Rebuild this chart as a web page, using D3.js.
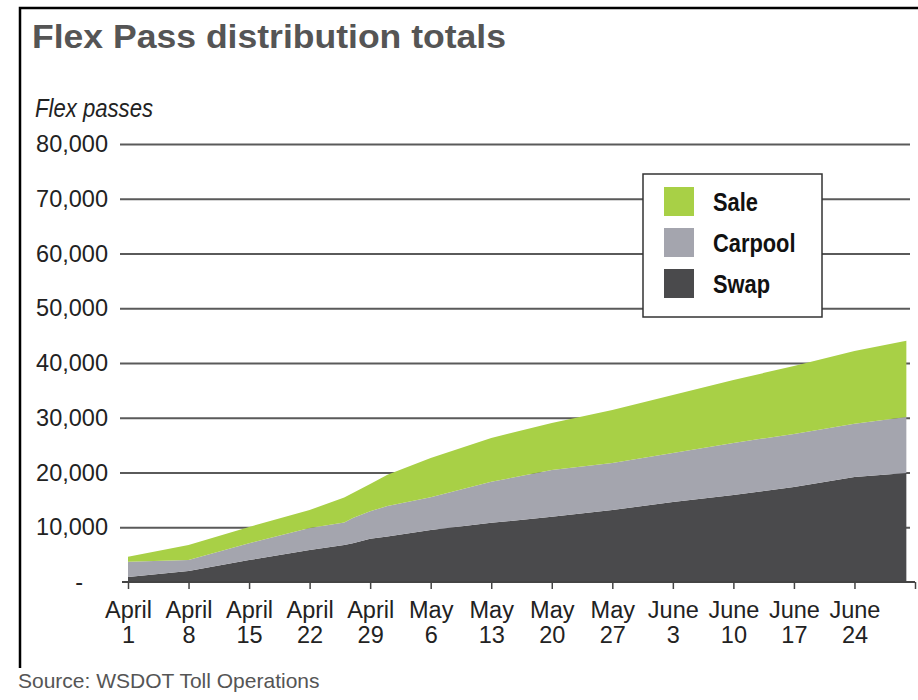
<!DOCTYPE html>
<html>
<head>
<meta charset="utf-8">
<script src="https://cdn.jsdelivr.net/npm/d3@7"></script>
<style>
  body { margin: 0; background: #fff; }
  svg { display: block; }
</style>
</head>
<body>
<script>
// data (cumulative passes per program)
const dates = ['2012-04-01', '2012-04-08', '2012-04-15', '2012-04-22', '2012-04-26',
  '2012-04-27', '2012-04-29', '2012-05-01', '2012-05-06', '2012-05-13', '2012-05-20',
  '2012-05-27', '2012-06-03', '2012-06-10', '2012-06-17', '2012-06-24', '2012-06-30']
const swap    = [900, 2000, 4000, 5850, 6750, 7100, 7900, 8300, 9500, 10800, 11900, 13150, 14600, 15900, 17350, 19200, 19900]
const carpool = [2800, 2000, 3100, 4000, 4100, 4600, 5000, 5600, 6000, 7500, 8550, 8600, 8950, 9500, 9700, 9700, 10250]
const sale    = [900, 2750, 2950, 3300, 4600, 4550, 5000, 5700, 7150, 8000, 8600, 9650, 10600, 11500, 12400, 13300, 13900]

const seriesNames = ['Swap', 'Carpool', 'Sale']
const legendNames = ['Sale', 'Carpool', 'Swap']

const xTickDates = ['2012-04-01', '2012-04-08', '2012-04-15', '2012-04-22', '2012-04-29',
  '2012-05-06', '2012-05-13', '2012-05-20', '2012-05-27', '2012-06-03', '2012-06-10',
  '2012-06-17', '2012-06-24', '2012-07-01']
const xTickMonths = ['April', 'April', 'April', 'April', 'April', 'May', 'May', 'May', 'May', 'June', 'June', 'June', 'June', '']
const xTickDays = ['1', '8', '15', '22', '29', '6', '13', '20', '27', '3', '10', '17', '24', '']
const yTicks = [0, 10000, 20000, 30000, 40000, 50000, 60000, 70000, 80000]

chart()

function chart() {
  const outerWidth = 918
  const outerHeight = 700

  const colors = { Sale: '#a8d046', Carpool: '#a4a5ae', Swap: '#4a4a4c' }

  const parse = d3.timeParse('%Y-%m-%d')
  const table = dates.map((d, i) => ({
    date: parse(d),
    Swap: swap[i],
    Carpool: carpool[i],
    Sale: sale[i]
  }))

  const svg = d3.select('body')
    .append('svg')
    .attr('width', outerWidth)
    .attr('height', outerHeight)

  // frame
  svg.append('path')
    .attr('d', 'M20,668V8H918')
    .style('fill', 'none')
    .style('stroke', '#000')
    .style('stroke-width', '2.5px')

  // title
  svg.append('text')
    .attr('x', 32)
    .attr('y', 48)
    .attr('textLength', 474)
    .attr('lengthAdjust', 'spacingAndGlyphs')
    .style('font-family', 'Liberation Sans, Arial, sans-serif')
    .style('font-weight', 'bold')
    .style('font-size', '33px')
    .style('fill', '#555')
    .text('Flex Pass distribution totals')

  svg.append('text')
    .attr('x', 35)
    .attr('y', 117)
    .attr('textLength', 118)
    .attr('lengthAdjust', 'spacingAndGlyphs')
    .style('font-family', 'Liberation Sans, Arial, sans-serif')
    .style('font-style', 'italic')
    .style('font-size', '25px')
    .style('fill', '#222')
    .text('Flex passes')

  // scales
  const xScale = d3.scaleTime()
    .domain([parse('2012-04-01'), parse('2012-07-01')])
    .range([128, 915])

  const yScale = d3.scaleLinear()
    .domain([0, 80000])
    .range([582, 144])

  // gridlines + y labels
  const yAxis = d3.axisLeft(yScale)
    .tickValues(yTicks)
    .tickSize(-790)
    .tickPadding(12)
    .tickFormat(d => d === 0 ? '-' : d3.format(',')(d))

  const yG = svg.append('g')
    .attr('transform', 'translate(120,0)')
    .call(yAxis)
  yG.select('.domain').remove()
  yG.selectAll('.tick line')
    .style('stroke', d => d === 0 ? 'none' : '#5a5a5a')
    .style('stroke-width', '2px')
  yG.selectAll('.tick text')
    .style('font-family', 'Liberation Sans, Arial, sans-serif')
    .style('font-size', '23.5px')
    .style('fill', '#222')
    .attr('x', d => d === 0 ? -37 : -12)

  // stacked areas
  const stack = d3.stack().keys(seriesNames)
  const layers = stack(table)

  const area = d3.area()
    .x(d => xScale(d.data.date))
    .y0(d => yScale(d[0]))
    .y1(d => yScale(d[1]))

  svg.selectAll('path.layer')
    .data(layers)
    .enter()
    .append('path')
    .attr('class', 'layer')
    .attr('d', area)
    .style('fill', d => colors[d.key])

  // x axis
  const xAxis = d3.axisBottom(xScale)
    .tickValues(xTickDates.map(parse))
    .tickSize(7)
    .tickFormat('')

  const xG = svg.append('g')
    .attr('transform', `translate(0,${yScale(0)})`)
    .call(xAxis)
  xG.select('.domain')
    .attr('d', 'M122,0H915')
    .style('stroke', '#444')
    .style('stroke-width', '2px')
  xG.selectAll('.tick line')
    .style('stroke', '#444')
    .style('stroke-width', '1.5px')

  xG.selectAll('.tick')
    .each(function(d, i) {
      const t = d3.select(this)
      t.append('text')
        .attr('y', 36)
        .text(xTickMonths[i])
      t.append('text')
        .attr('y', 61)
        .text(xTickDays[i])
      t.selectAll('text')
        .attr('text-anchor', 'middle')
        .style('font-family', 'Liberation Sans, Arial, sans-serif')
        .style('font-size', '23.5px')
        .style('fill', '#222')
    })

  // legend
  const legend = svg.append('g')
    .attr('transform', 'translate(643,174)')

  legend.append('rect')
    .attr('width', 179)
    .attr('height', 143)
    .style('fill', '#fff')
    .style('stroke', '#333')
    .style('stroke-width', '1.5px')

  legend.selectAll('g.item')
    .data(legendNames)
    .enter()
    .append('g')
    .attr('class', 'item')
    .attr('transform', (d, i) => `translate(21,${13 + i * 41})`)
    .each(function(d) {
      d3.select(this)
        .append('rect')
        .attr('width', 30)
        .attr('height', 29)
        .style('fill', colors[d])

      // condensed bold look
      const label = d3.select(this)
        .append('text')
        .attr('x', 49)
        .attr('y', 24)
        .style('font-family', 'Liberation Sans, Arial, sans-serif')
        .style('font-weight', 'bold')
        .style('font-size', '26px')
        .style('fill', '#111')
        .text(d)
      label.attr('textLength', label.node().getComputedTextLength() * 0.84)
        .attr('lengthAdjust', 'spacingAndGlyphs')
    })

  // source
  svg.append('text')
    .attr('x', 18)
    .attr('y', 688)
    .style('font-family', 'Liberation Sans, Arial, sans-serif')
    .style('font-size', '21px')
    .style('fill', '#555')
    .text('Source: WSDOT Toll Operations')
}
</script>
</body>
</html>
